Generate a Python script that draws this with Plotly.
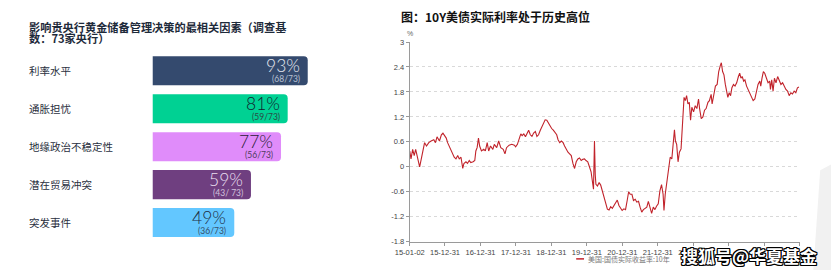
import plotly.graph_objects as go

W, H = 831, 275

# ---------------- data: left panel ----------------
factors = ["利率水平", "通胀担忧", "地缘政治不稳定性", "潜在贸易冲突", "突发事件"]
factor_pct = [93, 81, 77, 59, 49]
factor_pct_labels = ["93%", "81%", "77%", "59%", "49%"]
factor_count_labels = ["(68/73)", "(59/73)", "(56/73)", "(43/ 73)", "(36/73)"]

# ---------------- data: right panel ----------------
rate_dates = [
    "2015-01-02", "2015-01-15", "2015-02-01", "2015-02-17", "2015-03-04", "2015-03-21",
    "2015-04-14", "2015-05-01", "2015-05-21", "2015-06-04", "2015-06-24", "2015-07-17",
    "2015-08-10", "2015-09-07", "2015-09-24", "2015-10-10", "2015-11-04", "2015-11-24",
    "2015-12-10", "2015-12-27", "2016-01-13", "2016-01-27", "2016-02-13", "2016-03-01",
    "2016-03-16", "2016-04-04", "2016-04-22", "2016-05-10", "2016-05-26", "2016-06-13",
    "2016-07-01", "2016-07-13", "2016-08-03", "2016-08-19", "2016-09-06", "2016-09-22",
    "2016-10-16", "2016-11-02", "2016-11-13", "2016-11-26", "2016-12-10", "2016-12-22",
    "2017-01-10", "2017-02-02", "2017-02-19", "2017-03-10", "2017-03-25", "2017-04-13",
    "2017-05-07", "2017-05-22", "2017-06-16", "2017-07-06", "2017-07-28", "2017-08-22",
    "2017-09-09", "2017-09-25", "2017-10-22", "2017-11-18", "2017-12-15", "2017-12-28",
    "2018-01-15", "2018-02-01", "2018-02-19", "2018-03-05", "2018-03-22", "2018-04-08",
    "2018-04-25", "2018-05-11", "2018-05-28", "2018-06-14", "2018-07-01", "2018-07-19",
    "2018-08-04", "2018-08-21", "2018-09-08", "2018-09-24", "2018-10-10", "2018-10-28",
    "2018-11-14", "2018-12-01", "2018-12-17", "2019-01-03", "2019-01-20", "2019-02-07",
    "2019-02-24", "2019-03-10", "2019-03-27", "2019-04-13", "2019-05-01", "2019-05-16",
    "2019-06-03", "2019-06-20", "2019-07-07", "2019-07-24", "2019-08-10", "2019-08-27",
    "2019-09-13", "2019-09-30", "2019-10-17", "2019-11-03", "2019-11-20", "2019-12-07",
    "2019-12-23", "2020-01-10", "2020-01-27", "2020-02-13", "2020-03-09", "2020-03-19",
    "2020-03-27", "2020-04-03", "2020-04-19", "2020-05-06", "2020-05-22", "2020-06-09",
    "2020-06-26", "2020-07-13", "2020-07-30", "2020-08-16", "2020-09-02", "2020-09-19",
    "2020-10-06", "2020-10-22", "2020-11-09", "2020-11-26", "2020-12-13", "2020-12-29",
    "2021-01-16", "2021-02-02", "2021-02-19", "2021-03-06", "2021-03-22", "2021-04-09",
    "2021-04-25", "2021-05-13", "2021-05-29", "2021-06-16", "2021-07-02", "2021-07-19",
    "2021-08-05", "2021-08-22", "2021-09-09", "2021-09-25", "2021-10-12", "2021-10-29",
    "2021-11-15", "2021-12-02", "2021-12-18", "2022-01-05", "2022-01-22", "2022-02-08",
    "2022-02-24", "2022-03-05", "2022-03-18", "2022-04-05", "2022-04-22", "2022-05-08",
    "2022-05-25", "2022-06-11", "2022-06-21", "2022-07-01", "2022-07-14", "2022-07-28",
    "2022-08-11", "2022-08-28", "2022-09-14", "2022-09-28", "2022-10-11", "2022-10-24",
    "2022-11-07", "2022-11-21", "2022-12-04", "2022-12-17", "2023-01-04", "2023-01-21",
    "2023-02-07", "2023-02-24", "2023-03-07", "2023-03-24", "2023-04-10", "2023-04-27",
    "2023-05-13", "2023-06-01", "2023-06-16", "2023-07-04", "2023-07-14", "2023-07-31",
    "2023-08-17", "2023-09-04", "2023-09-20", "2023-10-07", "2023-10-17", "2023-10-30",
    "2023-11-13", "2023-11-27", "2023-12-13", "2023-12-23", "2024-01-06", "2024-01-20",
    "2024-02-03", "2024-02-19", "2024-03-06", "2024-03-23", "2024-04-10", "2024-04-23",
    "2024-05-06", "2024-05-19", "2024-06-03", "2024-06-16", "2024-07-03", "2024-07-19",
    "2024-08-07", "2024-08-23", "2024-09-09", "2024-09-26", "2024-10-13", "2024-10-29",
    "2024-11-16", "2024-11-26", "2024-12-09", "2024-12-23", "2025-01-06", "2025-01-23",
    "2025-02-09", "2025-02-26", "2025-03-06", "2025-03-19", "2025-04-02", "2025-04-16",
    "2025-05-02", "2025-05-19", "2025-06-05", "2025-06-22", "2025-07-09", "2025-07-25",
    "2025-08-12", "2025-08-29", "2025-09-15", "2025-10-02", "2025-10-19", "2025-11-05",
    "2025-11-22", "2025-12-09", "2025-12-25",
]
rate_values = [
    0.38, 0.19, 0.42, 0.27, 0.42, 0.23,
    0.00, 0.19, 0.38, 0.58, 0.50, 0.58,
    0.62, 0.65, 0.58, 0.72, 0.62, 0.77,
    0.81, 0.75, 0.69, 0.58, 0.50, 0.42,
    0.35, 0.23, 0.19, 0.27, 0.19, 0.23,
    -0.04, 0.08, 0.12, 0.08, 0.15, 0.10,
    0.12, 0.15, 0.38, 0.46, 0.69, 0.50,
    0.38, 0.42, 0.38, 0.58, 0.38, 0.50,
    0.42, 0.54, 0.46, 0.62, 0.46, 0.42,
    0.31, 0.46, 0.52, 0.54, 0.52, 0.48,
    0.54, 0.69, 0.79, 0.75, 0.79, 0.72,
    0.81, 0.88, 0.77, 0.73, 0.81, 0.85,
    0.73, 0.77, 0.88, 0.96, 1.08, 1.13,
    1.12, 1.04, 1.00, 0.92, 0.88, 0.81,
    0.77, 0.65, 0.58, 0.62, 0.58, 0.50,
    0.42, 0.35, 0.31, 0.27, 0.08, -0.04,
    0.12, 0.19, 0.21, 0.15, 0.18, 0.19,
    0.15, 0.12, 0.00, -0.12, -0.54, 0.62,
    -0.19, -0.42, -0.46, -0.38, -0.44, -0.58,
    -0.73, -0.85, -1.02, -1.04, -0.96, -1.00,
    -0.92, -0.88, -0.80, -0.93, -1.01, -1.05,
    -1.01, -1.03, -0.81, -0.60, -0.66, -0.66,
    -0.81, -0.78, -0.85, -0.83, -0.97, -1.09,
    -1.03, -1.01, -0.97, -0.83, -1.01, -1.12,
    -0.97, -1.03, -0.95, -0.89, -0.58, -0.43,
    -0.66, -1.05, -0.66, -0.35, -0.04, 0.23,
    0.19, 0.66, 0.89, 0.62, 0.54, 0.12,
    0.35, 0.43, 1.20, 1.67, 1.59, 1.71,
    1.51, 1.55, 1.12, 1.43, 1.32, 1.47,
    1.40, 1.63, 1.40, 1.16, 1.20, 1.36,
    1.40, 1.55, 1.59, 1.74, 1.51, 1.75,
    1.94, 1.98, 2.29, 2.44, 2.50, 2.29,
    2.21, 1.98, 1.75, 1.67, 1.78, 1.71,
    1.90, 1.98, 1.94, 2.02, 2.17, 2.25,
    2.13, 2.17, 2.06, 2.09, 1.94, 1.86,
    1.75, 1.67, 1.59, 1.63, 1.82, 1.98,
    2.06, 1.94, 2.13, 2.29, 2.25, 2.13,
    2.02, 2.06, 1.86, 2.09, 1.82, 2.13,
    2.02, 2.17, 2.09, 1.98, 2.02, 1.94,
    1.86, 1.82, 1.71, 1.78, 1.75, 1.82,
    1.78, 1.90, 1.92,
]

# tick marks every year-end; the last three labels sit fully behind the watermark in the reference
x_tick_dates = ["2015-01-02", "2015-12-31", "2016-12-31", "2017-12-31", "2018-12-31",
                "2019-12-31", "2020-12-31", "2021-12-31", "2022-12-31", "2023-12-31",
                "2024-12-31", "2025-12-31"]
x_tick_labels = ["15-01-02", "15-12-31", "16-12-31", "17-12-31", "18-12-31",
                 "19-12-31", "20-12-31", "21-12-31", "22-12-31", "", "", ""]
y_tick_values = [3, 2.4, 1.8, 1.2, 0.6, 0, -0.6, -1.2, -1.8]
y_tick_labels = ["3", "2.4", "1.8", "1.2", "0.6", "0", "-0.6", "-1.2", "-1.8"]

left_title = ["影响贵央行黄金储备管理决策的最相关因素（调查基", "数：73家央行）"]
right_title = "图：10Y美债实际利率处于历史高位"
legend_name = "美国:国债实际收益率:10年"
watermark = "搜狐号@华夏基金"

# ---------------- styles ----------------
bar_colors = ["#344A6E", "#00D193", "#E08CFA", "#6F3F80", "#63C7FF"]
pct_colors = ["#E4E8F0", "#13222E", "#2A2036", "#EADFF0", "#1E2E44"]
cnt_colors = ["#B7C0D2", "#2B4A44", "#4E3C5C", "#D2C0DC", "#35506A"]
line_color = "#C1232B"
CJK = "Noto Sans CJK SC, Noto Sans, sans-serif"
LAT = "Liberation Sans, Arial, Noto Sans CJK SC, sans-serif"


def px(x):
    return x / W


def py(y):
    return 1 - y / H


fig = go.Figure()

fig.add_trace(go.Bar(
    x=factor_pct, y=factors, orientation="h",
    marker=dict(color=bar_colors, line=dict(width=0)),
    xaxis="x", yaxis="y", hoverinfo="skip", showlegend=False,
))

fig.add_trace(go.Scatter(
    x=rate_dates, y=rate_values, mode="lines", name=legend_name,
    line=dict(color=line_color, width=1.1),
    xaxis="x2", yaxis="y2", hoverinfo="skip", showlegend=False,
))

ann = []
# left title
for i, t in enumerate(left_title):
    ann.append(dict(text=t, xref="paper", yref="paper", x=px(12), y=py(23.3 + 12 * i),
                    xanchor="left", yanchor="middle", showarrow=False,
                    font=dict(family=CJK, size=11.2, color="#1E2A3A", weight=600)))
# category labels & bar texts
for f, p, pl, cl, pc, cc in zip(factors, factor_pct, factor_pct_labels, factor_count_labels,
                                 pct_colors, cnt_colors):
    ann.append(dict(text=f, xref="paper", yref="y", x=px(12.5), y=f, xanchor="left",
                    yanchor="middle", showarrow=False,
                    font=dict(family=CJK, size=10.5, color="#2A3040")))
    ann.append(dict(text=pl, xref="x", yref="y", x=p, y=f, xanchor="right", yanchor="middle",
                    xshift=-6, yshift=5.5, showarrow=False,
                    font=dict(family="Lato, Open Sans, sans-serif", size=17.5, color=pc, weight=300)))
    ann.append(dict(text=cl, xref="x", yref="y", x=p, y=f, xanchor="right", yanchor="middle",
                    xshift=-6, yshift=-8.5, showarrow=False,
                    font=dict(family="Lato, Open Sans, sans-serif", size=8.5, color=cc)))
# right title
ann.append(dict(text=right_title, xref="paper", yref="paper", x=px(391), y=py(13),
                xanchor="left", yanchor="middle", showarrow=False,
                font=dict(family=CJK, size=12, color="#111111", weight="bold")))
# unit
ann.append(dict(text="%", xref="paper", yref="paper", x=px(402), y=py(30.5),
                xanchor="center", yanchor="middle", showarrow=False,
                font=dict(family=LAT, size=7, color="#666666")))
# legend text
ann.append(dict(text=legend_name, xref="paper", yref="paper", x=px(581), y=py(263.5),
                xanchor="left", yanchor="middle", showarrow=False,
                font=dict(family=CJK, size=7, color="#777777")))
# watermark
ann.append(dict(text=watermark, xref="paper", yref="paper", x=px(748), y=py(260),
                xanchor="center", yanchor="middle", showarrow=False,
                font=dict(family=CJK, size=17, color="#FFFFFF", weight="bold",
                          shadow="1px 1px 0 #000, -1px -1px 0 #000, 1px -1px 0 #000, -1px 1px 0 #000, 0 1px 0 #000, 0 -1px 0 #000, 1px 0 0 #000, -1px 0 0 #000")))

shapes = [
    dict(type="line", xref="paper", yref="paper", x0=px(571.5), x1=px(579.5),
         y0=py(263.5), y1=py(263.5), line=dict(color=line_color, width=1.5)),
    dict(type="path", xref="paper", yref="paper",
         path=f"M {px(820)},{py(172)} L {px(831)},{py(166)} L {px(831)},{py(275)} L {px(813)},{py(275)} Z",
         fillcolor="#F1F1F1", line=dict(width=0), layer="below"),
]

fig.update_layout(
    width=W, height=H,
    margin=dict(l=0, r=0, t=0, b=0),
    paper_bgcolor="white", plot_bgcolor="white",
    bargap=0.235, barcornerradius=4,
    showlegend=False,
    xaxis=dict(domain=[px(140), px(310)], range=[0, 100], visible=False, fixedrange=True),
    yaxis=dict(domain=[py(245.6), py(49.4)], autorange="reversed", visible=False,
               fixedrange=True),
    xaxis2=dict(domain=[px(402), px(799)], anchor="y2", type="date",
                range=["2015-01-02", "2025-12-31"],
                tickmode="array", tickvals=x_tick_dates, ticktext=x_tick_labels,
                ticks="outside", ticklen=3, tickcolor="#999999",
                showline=True, linecolor="#9A9A9A", linewidth=1, showgrid=False,
                zeroline=False, tickangle=0,
                tickfont=dict(family=LAT, size=7.5, color="#444444")),
    yaxis2=dict(domain=[py(245.7), py(39.3)], anchor="x2", range=[-1.8, 3],
                tickmode="array", tickvals=y_tick_values, ticktext=y_tick_labels,
                ticks="outside", ticklen=3, tickcolor="#999999",
                showline=True, linecolor="#9A9A9A", linewidth=1,
                showgrid=True, gridcolor="#D9D9D9", griddash="dot", gridwidth=1,
                zeroline=False,
                tickfont=dict(family=LAT, size=7.5, color="#444444")),
    annotations=ann,
    shapes=shapes,
)

fig.write_html("out.html")
